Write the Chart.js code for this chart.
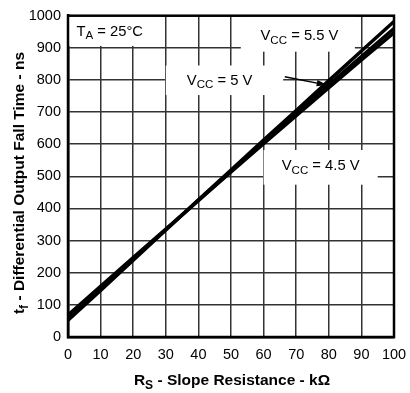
<!DOCTYPE html>
<html>
<head>
<meta charset="utf-8">
<script src="https://cdn.jsdelivr.net/npm/chart.js@4"></script>
<style>
  html, body { margin: 0; padding: 0; background: #fff; }
  #wrap { width: 410px; height: 393px; }
</style>
</head>
<body>
<div id="wrap"><canvas id="fallChart" width="410" height="393"></canvas></div>
<script>
const slopeRes = [0, 10, 20, 30, 40, 50, 60, 70, 80, 90, 100];
const vcc55 = [52, 145, 239, 333, 427, 520, 613, 705, 798, 890, 982];
const vcc50 = [60, 152, 243, 334, 425, 516, 606, 696, 785, 873, 960];
const vcc45 = [68, 158, 247, 336, 425, 514, 602, 689, 776, 862, 947];
const xTicks = [0, 10, 20, 30, 40, 50, 60, 70, 80, 90, 100];
const yTicks = [0, 100, 200, 300, 400, 500, 600, 700, 800, 900, 1000];

const FONT = "Liberation Sans, Arial, sans-serif";

// text with subscript pieces: [[text, isSub], ...]
function partsWidth(ctx, parts, size, weight) {
  let w = 0;
  for (const [t, sub] of parts) {
    ctx.font = weight + " " + (sub ? size * 0.78 : size) + "px " + FONT;
    w += ctx.measureText(t).width;
  }
  return w;
}
function drawParts(ctx, parts, cx, cy, size, weight) {
  const w = partsWidth(ctx, parts, size, weight);
  let x = cx - w / 2;
  ctx.fillStyle = "#000";
  ctx.textBaseline = "middle";
  ctx.textAlign = "left";
  for (const [t, sub] of parts) {
    ctx.font = weight + " " + (sub ? size * 0.78 : size) + "px " + FONT;
    ctx.fillText(t, x, sub ? cy + size * 0.3 : cy);
    x += ctx.measureText(t).width;
  }
}

// label boxes in data units: [x0, x1, y0, y1, textX, textY, parts]
const labels = [
  [0, 28, 906, 1000, 12.8, 950, [["T", false], ["A", true], [" = 25°C", false]]],
  [53, 88, 888, 1000, 71, 936, [["V", false], ["CC", true], [" = 5.5 V", false]]],
  [30, 66, 753, 845, 46.5, 798, [["V", false], ["CC", true], [" = 5 V", false]]],
  [60, 95, 474, 582, 77.5, 532, [["V", false], ["CC", true], [" = 4.5 V", false]]]
];

const decorPlugin = {
  id: "decor",
  beforeDatasetsDraw(chart) {
    const { ctx, scales: { x, y } } = chart;
    ctx.save();
    for (const l of labels) {
      const px0 = x.getPixelForValue(l[0]), px1 = x.getPixelForValue(l[1]);
      const py0 = y.getPixelForValue(l[3]), py1 = y.getPixelForValue(l[2]);
      ctx.fillStyle = "#fff";
      ctx.fillRect(px0, py0, px1 - px0, py1 - py0);
      drawParts(ctx, l[6], x.getPixelForValue(l[4]), y.getPixelForValue(l[5]), 14.8, "normal");
    }
    // arrow for VCC = 5 V
    const ax0 = x.getPixelForValue(66.5), ay0 = y.getPixelForValue(810);
    const ax1 = x.getPixelForValue(79.5), ay1 = y.getPixelForValue(784);
    ctx.strokeStyle = "#000";
    ctx.lineWidth = 1.3;
    ctx.beginPath();
    ctx.moveTo(ax0, ay0);
    ctx.lineTo(ax1, ay1);
    ctx.stroke();
    const ang = Math.atan2(ay1 - ay0, ax1 - ax0);
    ctx.fillStyle = "#000";
    ctx.beginPath();
    ctx.moveTo(ax1, ay1);
    ctx.lineTo(ax1 - 11 * Math.cos(ang - 0.3), ay1 - 11 * Math.sin(ang - 0.3));
    ctx.lineTo(ax1 - 11 * Math.cos(ang + 0.3), ay1 - 11 * Math.sin(ang + 0.3));
    ctx.closePath();
    ctx.fill();
    ctx.restore();
  },
  afterDraw(chart) {
    const { ctx, chartArea: a } = chart;
    ctx.save();
    ctx.strokeStyle = "#000";
    ctx.lineWidth = 2.5;
    ctx.strokeRect(a.left, a.top, a.right - a.left, a.bottom - a.top);
    // axis titles
    drawParts(ctx, [["R", false], ["S", true], [" - Slope Resistance - kΩ", false]],
      232, 381, 15.5, "bold");
    ctx.translate(20, 183);
    ctx.rotate(-Math.PI / 2);
    drawParts(ctx, [["t", false], ["f", true], [" - Differential Output Fall Time - ns", false]],
      0, 0, 15.5, "bold");
    ctx.restore();
  }
};

const ctx = document.getElementById("fallChart").getContext("2d");
new Chart(ctx, {
  type: "line",
  data: {
    labels: slopeRes,
    datasets: [
      { label: "VCC = 5.5 V", data: vcc55 },
      { label: "VCC = 5 V", data: vcc50 },
      { label: "VCC = 4.5 V", data: vcc45 }
    ].map(d => ({
      ...d,
      data: d.data.map((v, i) => ({ x: slopeRes[i], y: v })),
      borderColor: "#000",
      borderWidth: 3.5,
      pointRadius: 0,
      tension: 0,
      fill: false
    }))
  },
  options: {
    responsive: false,
    animation: false,
    devicePixelRatio: 1,
    layout: { padding: { top: 13, right: 0, left: 0, bottom: 0 } },
    plugins: {
      legend: { display: false },
      tooltip: { enabled: false }
    },
    scales: {
      x: {
        type: "linear",
        min: 0,
        max: 100,
        afterBuildTicks: s => { s.ticks = xTicks.map(v => ({ value: v })); },
        afterFit: s => { s.height = 56; s.paddingRight = 16; },
        ticks: { color: "#000", padding: 9, font: { family: FONT, size: 14.5 }, callback: v => String(v) },
        grid: { color: "#333", lineWidth: 1.5, drawTicks: false },
        border: { color: "#000", width: 2.5 }
      },
      y: {
        min: 0,
        max: 1000,
        afterBuildTicks: s => { s.ticks = yTicks.map(v => ({ value: v })); },
        afterFit: s => { s.width = 68; },
        ticks: { color: "#000", padding: 7, font: { family: FONT, size: 14.5 }, callback: v => String(v) },
        grid: { color: "#333", lineWidth: 1.5, drawTicks: false },
        border: { color: "#000", width: 2.5 }
      }
    }
  },
  plugins: [decorPlugin]
});
</script>
</body>
</html>
